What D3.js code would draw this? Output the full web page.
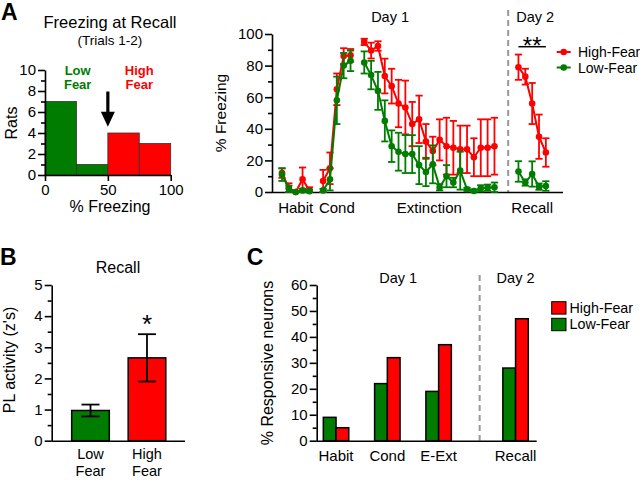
<!DOCTYPE html>
<html><head><meta charset="utf-8">
<script src="https://cdn.jsdelivr.net/npm/d3@7"></script>
<style>body{margin:0;background:#fff}svg{display:block}</style>
</head><body><svg id="c" width="640" height="480"></svg>
<script>
// ---------------- DATA ----------------
// Panel A (histogram)
const histBinStart = [0, 25, 50, 75];
const histBinEnd   = [25, 50, 75, 100];
const histCounts   = [7, 1, 4, 3];
const histGroup    = ["low", "low", "high", "high"];
const histYMajor   = [0, 2, 4, 6, 8, 10];
const histYMinor   = [1, 3, 5, 7, 9];
const histXTicks   = [0, 50, 100];

// Panel A (freezing across trials)
const seriesNames = ["High-Fear", "Low-Fear"];
const habitX  = [0, 1, 2, 3, 4];
const condX   = [6, 7, 8, 9, 10];
const extX    = [12, 13, 14, 15, 16, 17, 18, 19, 20, 21, 22, 23, 24, 25, 26, 27, 28, 29, 30, 31];
const recallX = [34.5, 35.5, 36.5, 37.5, 38.5];
const dayDivider = 33;

const habitHigh    = [12, 2.5, 0, 8, 1];
const habitHighErr = [3, 3, 0, 7.5, 2];
const habitLow     = [11, 2, 0, 1, 0.5];
const habitLowErr  = [4, 2, 0, 1, 1];

const condHigh    = [7, 15, 65, 86, 86.5];
const condHighErr = [7, 10, 10, 5, 4];
const condLow     = [1, 8, 58, 80, 83];
const condLowErr  = [1, 7, 15, 8, 6.5];

const extHigh    = [95, 89.5, 92.4, 73.4, 67, 56, 53.5, 43, 46, 32, 26, 33, 29, 28, 27, 27, 22, 28, 28, 29];
const extHighErr = [2, 5, 3, 11, 11, 15, 17, 14, 15, 11, 9, 13, 18, 17, 15, 15, 12, 18, 18, 18];
const extLow     = [82, 74, 64, 45, 29, 25.5, 24, 24, 17, 12.7, 17.5, 3, 10, 6, 13.5, 1.7, 0.6, 2.3, 2.7, 3];
const extLowErr  = [7, 9, 12, 13, 10, 12, 12, 12, 12, 9, 12, 2, 7, 3, 12, 1, 1, 2, 2, 3];

const recallHigh    = [79, 73, 56, 35, 25];
const recallHighErr = [8, 5, 13, 14, 9];
const recallLow     = [13, 6, 11.4, 3.4, 3.8];
const recallLowErr  = [6.5, 2, 8, 2, 3];

const phaseLabels = ["Habit", "Cond", "Extinction", "Recall"];
const lineYMajor = [0, 20, 40, 60, 80, 100];
const lineYMinor = [10, 30, 50, 70, 90];

// Panel B
const bGroups = ["Low|Fear", "High|Fear"];
const bValues = [0.97, 2.66];
const bErr    = [0.19, 0.76];
const bYMajor = [0, 1, 2, 3, 4, 5];
const bYMinor = [0.5, 1.5, 2.5, 3.5, 4.5];

// Panel C
const cCategories = ["Habit", "Cond", "E-Ext", "Recall"];
const cPositions  = [0, 1, 2, 3.5];
const cLow  = [9, 22, 19, 28];
const cHigh = [5, 32, 37, 47];
const cDivider = 2.8;
const cYMajor = [0, 10, 20, 30, 40, 50, 60];
const cYMinor = [5, 15, 25, 35, 45, 55];

// ---------------- STYLE ----------------
const RED = "#ff0000", GREEN = "#007d00", FONT = '"Liberation Sans", Arial, Helvetica, sans-serif';
const svg = d3.select("#c");

function label(x, y, str, o = {}) {
  const t = svg.append("text").attr("x", x).attr("y", y)
    .attr("font-family", FONT).attr("font-size", o.size || 15)
    .attr("text-anchor", o.anchor || "middle").attr("fill", o.fill || "#000")
    .attr("font-weight", o.weight || "normal").text(str);
  if (o.rotate) t.attr("transform", `rotate(-90,${x},${y})`);
  return t;
}
function styleAxis(g) {
  g.selectAll("line").attr("stroke", "#000").attr("stroke-width", 1.6);
  g.selectAll(".domain").attr("stroke", "#000").attr("stroke-width", 1.6);
  g.selectAll("text").attr("font-family", FONT).attr("font-size", 15).attr("fill", "#000");
}
function yAxis(x, scale, major, minor) {
  const g1 = svg.append("g").attr("transform", `translate(${x},0)`)
    .call(d3.axisLeft(scale).tickValues(major).tickSize(7).tickPadding(2).tickSizeOuter(0).tickFormat(d3.format("d")));
  const g2 = svg.append("g").attr("transform", `translate(${x},0)`)
    .call(d3.axisLeft(scale).tickValues(minor).tickSize(4).tickSizeOuter(0).tickFormat(""));
  g2.select(".domain").remove();
  styleAxis(g1); styleAxis(g2);
}
function hLine(x1, x2, y, w = 1.6, color = "#000") {
  svg.append("line").attr("x1", x1).attr("x2", x2).attr("y1", y).attr("y2", y)
    .attr("stroke", color).attr("stroke-width", w);
}

// ---------------- PANEL A: HISTOGRAM ----------------
const hx = d3.scaleLinear().domain([0, 100]).range([45, 170.7]);
const hy = d3.scaleLinear().domain([0, 10]).range([175, 70]);
svg.append("g").selectAll("rect").data(histCounts).join("rect")
  .attr("x", (d, i) => hx(histBinStart[i])).attr("width", (d, i) => hx(histBinEnd[i]) - hx(histBinStart[i]))
  .attr("y", d => hy(d)).attr("height", d => hy(0) - hy(d))
  .attr("fill", (d, i) => histGroup[i] === "low" ? GREEN : RED)
  .attr("stroke", "#333").attr("stroke-width", 0.8);
yAxis(hx(0), hy, histYMajor, histYMinor);
const hxg = svg.append("g").attr("transform", `translate(0,${hy(0)})`)
  .call(d3.axisBottom(hx).tickValues(histXTicks).tickSize(6).tickPadding(3).tickSizeOuter(0));
styleAxis(hxg);
label(1, 20, "A", { size: 23, weight: "bold", anchor: "start" });
label(110, 28, "Freezing at Recall", { size: 16.5 });
label(110, 45, "(Trials 1-2)", { size: 13.5 });
label(17, 123, "Rats", { size: 16, rotate: true });
label(110, 212, "% Freezing", { size: 16 });
label(hx(26), 75, "Low", { size: 13, weight: "bold", fill: GREEN });
label(hx(26), 89, "Fear", { size: 13, weight: "bold", fill: GREEN });
label(hx(75), 75, "High", { size: 13, weight: "bold", fill: RED });
label(hx(75), 89, "Fear", { size: 13, weight: "bold", fill: RED });
// arrow at the 50 % split
{
  const ax = hx(50), top = hy(7.95), tip = hy(4.6);
  svg.append("line").attr("x1", ax).attr("x2", ax).attr("y1", top).attr("y2", tip - 12)
    .attr("stroke", "#000").attr("stroke-width", 3.2);
  svg.append("path").attr("d", `M${ax - 7},${tip - 15} L${ax + 7},${tip - 15} L${ax},${tip} Z`).attr("fill", "#000");
}

// ---------------- PANEL A: LINE CHART ----------------
const lx = d3.scaleLinear().domain([-1.46, 41]).range([272, 563]);
const ly = d3.scaleLinear().domain([0, 100]).range([192, 34]);
svg.append("line").attr("x1", lx(dayDivider)).attr("x2", lx(dayDivider)).attr("y1", 10).attr("y2", ly(0))
  .attr("stroke", "#999").attr("stroke-width", 2).attr("stroke-dasharray", "6,4");
yAxis(lx.range()[0], ly, lineYMajor, lineYMinor);
hLine(lx.range()[0], lx.range()[1], ly(0) + 0.5);

const phasesX = [habitX, condX, extX, recallX];
const highSets = [[habitHigh, habitHighErr], [condHigh, condHighErr], [extHigh, extHighErr], [recallHigh, recallHighErr]];
const lowSets  = [[habitLow, habitLowErr], [condLow, condLowErr], [extLow, extLowErr], [recallLow, recallLowErr]];
function drawSeries(sets, color) {
  const g = svg.append("g");
  sets.forEach(([vals, errs], p) => {
    const xs = phasesX[p];
    const pts = vals.map((v, i) => ({ x: xs[i], v, e: errs[i] }));
    g.append("path").datum(pts).attr("fill", "none").attr("stroke", color).attr("stroke-width", 2)
      .attr("d", d3.line().x(d => lx(d.x)).y(d => ly(d.v)));
    pts.forEach(d => {
      const lo = Math.max(0, d.v - d.e), hi = d.v + d.e, cx = lx(d.x);
      if (d.e > 0) {
        g.append("line").attr("x1", cx).attr("x2", cx).attr("y1", ly(lo)).attr("y2", ly(hi)).attr("stroke", color).attr("stroke-width", 1.8);
        [hi, lo].forEach(yv => g.append("line").attr("x1", cx - 3.6).attr("x2", cx + 3.6).attr("y1", ly(yv)).attr("y2", ly(yv)).attr("stroke", color).attr("stroke-width", 1.8));
      }
      g.append("circle").attr("cx", cx).attr("cy", ly(d.v)).attr("r", 3.3).attr("fill", color);
    });
  });
}
drawSeries(highSets, RED);
drawSeries(lowSets, GREEN);

phasesX.forEach((xs, i) => label(lx(d3.mean(xs)), 213, phaseLabels[i], { size: 15 }));
label((lx.range()[0] + lx(dayDivider)) / 2, 22, "Day 1", { size: 14.5 });
label(lx(d3.mean(recallX)) + 3, 22, "Day 2", { size: 14.5 });
label(226, 113, "% Freezing", { size: 15.5, rotate: true });
// significance
hLine(lx(recallX[0]), lx(recallX[4]), 46.7, 1.5);
label(lx(d3.mean(recallX)), 54, "**", { size: 24 });
// legend
[RED, GREEN].forEach((c, i) => {
  const y = 52 + i * 15.5;
  hLine(556.7, 570.7, y, 2, c);
  svg.append("circle").attr("cx", 563.7).attr("cy", y).attr("r", 3.3).attr("fill", c);
  label(578, y + 5, seriesNames[i], { size: 14, anchor: "start" });
});

// ---------------- PANEL B ----------------
const bx = d3.scaleLinear().domain([-0.687, 1.673]).range([51.7, 185]);
const by = d3.scaleLinear().domain([0, 5]).range([440.7, 285]);
const bW = bx(0.333) - bx(0);
svg.append("g").selectAll("rect").data(bValues).join("rect")
  .attr("x", (d, i) => bx(i) - bW).attr("width", bW * 2)
  .attr("y", d => by(d)).attr("height", d => by(0) - by(d))
  .attr("fill", (d, i) => i === 0 ? GREEN : RED).attr("stroke", "#000").attr("stroke-width", 1.5);
bValues.forEach((v, i) => {
  const cx = bx(i), e = bErr[i];
  svg.append("line").attr("x1", cx).attr("x2", cx).attr("y1", by(v - e)).attr("y2", by(v + e)).attr("stroke", "#000").attr("stroke-width", 1.8);
  [v - e, v + e].forEach(yv => hLine(cx - 9, cx + 9, by(yv), 1.8));
});
yAxis(bx.range()[0], by, bYMajor, bYMinor);
hLine(bx.range()[0], bx.range()[1], by(0) + 0.5);
bGroups.forEach((g, i) => {
  const parts = g.split("|");
  label(bx(i), 459, parts[0], { size: 14.5 });
  label(bx(i), 475.5, parts[1], { size: 14.5 });
});
label(bx(1), 333, "*", { size: 26 });
label(118, 273, "Recall", { size: 16 });
label(0, 265, "B", { size: 23, weight: "bold", anchor: "start" });
label(15, 360, "PL activity (z's)", { size: 16, rotate: true });

// ---------------- PANEL C ----------------
const cx = d3.scaleLinear().domain([-0.377, 3.912]).range([316.7, 536.7]);
const cy = d3.scaleLinear().domain([0, 60]).range([440.7, 285]);
const cW = cx(0.248) - cx(0);
svg.append("line").attr("x1", cx(cDivider)).attr("x2", cx(cDivider)).attr("y1", 275).attr("y2", cy(0))
  .attr("stroke", "#999").attr("stroke-width", 2).attr("stroke-dasharray", "6,4");
[[cLow, GREEN, -1], [cHigh, RED, 0]].forEach(([vals, col, off]) => {
  svg.append("g").selectAll("rect").data(vals).join("rect")
    .attr("x", (d, i) => cx(cPositions[i]) + off * cW).attr("width", cW)
    .attr("y", d => cy(d)).attr("height", d => cy(0) - cy(d))
    .attr("fill", col).attr("stroke", "#000").attr("stroke-width", 1.5);
});
yAxis(cx.range()[0], cy, cYMajor, cYMinor);
hLine(cx.range()[0], cx.range()[1], cy(0) + 0.5);
cCategories.forEach((c, i) => label(cx(cPositions[i]), 461, c, { size: 15 }));
label((cx.range()[0] + cx(cDivider)) / 2, 283, "Day 1", { size: 14.5 });
label(cx(cPositions[3]), 283, "Day 2", { size: 14.5 });
label(246.7, 265, "C", { size: 23, weight: "bold", anchor: "start" });
label(273, 363, "% Responsive neurons", { size: 16, rotate: true });
[RED, GREEN].forEach((c, i) => {
  const y = 301.7 + i * 16.6;
  svg.append("rect").attr("x", 551.7).attr("y", y).attr("width", 14.3).attr("height", 12.4)
    .attr("fill", c).attr("stroke", "#000").attr("stroke-width", 1);
  label(569.5, y + 11, seriesNames[i], { size: 14.3, anchor: "start" });
});
</script></body></html>
